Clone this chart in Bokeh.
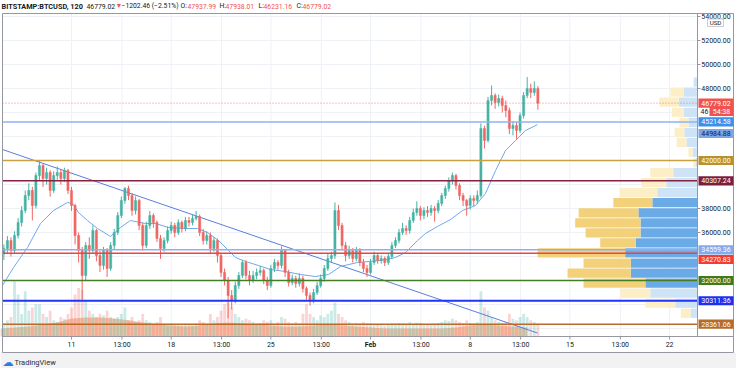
from bokeh.plotting import figure
from bokeh.models import Range1d
from bokeh.core.properties import value
from bokeh.embed import file_html
from bokeh.resources import INLINE

# ---------------- data (BITSTAMP:BTCUSD) ----------------
first_open = 34200
closes = [34670, 35330, 34500, 35750, 36830, 37830, 39080, 39500, 38250, 40750,
          41580, 40500, 41000, 39500, 40750, 41000, 40500, 41170, 39500, 38250,
          35750, 34500, 32420, 34920, 34500, 36170, 34080, 33250, 34500, 33000,
          34920, 36000, 37420, 38670, 39670, 39080, 37830, 38670, 36580, 34920,
          36580, 37420, 36830, 35500, 34670, 35330, 36170, 36580, 36000, 36830,
          36330, 37000, 36830, 37170, 37330, 36000, 35330, 35750, 34670, 35330,
          34080, 32670, 32000, 30750, 30330, 31580, 32420, 33500, 32420, 32000,
          32420, 32670, 32830, 32000, 31580, 33000, 33500, 33250, 34500, 32670,
          31830, 32170, 31750, 32170, 31330, 30750, 30330, 31000, 31580, 32170,
          33000, 33830, 34080, 37830, 36580, 34920, 34080, 34500, 33830, 34500,
          33500, 33000, 32670, 33500, 34080, 33670, 33830, 33500, 34000, 34920,
          35330, 36000, 36330, 36170, 37000, 37670, 38000, 37420, 37830, 37670,
          38000, 37830, 38420, 39080, 39670, 40330, 40750, 39920, 39080, 38670,
          38250, 38830, 38670, 39080, 44670, 43670, 47000, 47420, 46830, 47170,
          46580, 46170, 44670, 44920, 44500, 45750, 47420, 48000, 47670, 48000,
          46779.02]
highs = [35000, 35700, 35600, 36100, 37200, 38200, 39500, 40100, 39800, 41000,
         41950, 41700, 41400, 41200, 41100, 41500, 41300, 41400, 41300, 39800,
         38400, 36000, 34800, 35200, 35600, 36600, 36300, 34500, 34800, 34700,
         35200, 36300, 37700, 39000, 39800, 39900, 39300, 39000, 38800, 36800,
         36900, 37800, 37600, 37000, 35800, 35600, 36500, 36900, 36800, 37100,
         37000, 37300, 37300, 37500, 37800, 37500, 36300, 36100, 36000, 35600,
         35500, 34300, 33000, 32300, 31200, 31900, 32700, 33700, 33700, 32800,
         32800, 33000, 33200, 33000, 32300, 33300, 33800, 33700, 34850, 34600,
         32900, 32500, 32400, 32600, 32400, 31500, 31000, 31300, 31900, 32500,
         33300, 34200, 34400, 38500, 38300, 36800, 35200, 34900, 34700, 34800,
         34700, 33800, 33300, 33800, 34400, 34300, 34100, 34000, 34300, 35200,
         35600, 36300, 36800, 36600, 37300, 38000, 38600, 38200, 38100, 38200,
         38300, 38200, 38700, 39300, 39900, 40600, 41000, 40900, 40100, 39300,
         38800, 39100, 39100, 39500, 45100, 44900, 47300, 48250, 47600, 47500,
         47400, 47000, 46400, 45300, 45200, 46000, 47700, 48950, 48400, 48600,
         48200]
lows = [33700, 34300, 34000, 34200, 35500, 36500, 37600, 38700, 37000, 38000,
        40300, 39800, 40000, 39000, 39300, 40400, 40000, 40200, 39200, 37800,
        35000, 33500, 30400, 32000, 33800, 34200, 33600, 32700, 32900, 32300,
        32800, 34600, 35800, 37200, 38400, 38700, 37400, 37500, 36200, 34500,
        34700, 36300, 36400, 35200, 33800, 34400, 35100, 35900, 35600, 35800,
        36000, 36100, 36500, 36600, 37000, 35700, 35000, 35000, 34300, 34400,
        33500, 32300, 31600, 28850, 29600, 30100, 31300, 32200, 32100, 31600,
        31800, 32100, 32400, 31700, 31200, 31400, 32700, 32900, 33000, 32300,
        31500, 31600, 31400, 31500, 31000, 30400, 29900, 30100, 30800, 31400,
        31900, 32800, 33500, 33800, 36200, 34500, 33600, 33800, 33500, 33600,
        33200, 32700, 32300, 32500, 33300, 33400, 33400, 33200, 33300, 33800,
        34700, 35100, 35800, 35800, 35900, 36800, 37400, 37000, 37100, 37300,
        37400, 36900, 37600, 38200, 38800, 39400, 40000, 39600, 38700, 38200,
        37400, 37900, 38200, 38400, 38900, 43000, 43500, 46600, 46300, 46500,
        46000, 45600, 44200, 44100, 43800, 44300, 45500, 47200, 47200, 47400,
        46231.16]
volumes = [400, 500, 600, 1700, 1300, 700, 1400, 800, 900, 1000,
           1000, 700, 600, 800, 500, 450, 600, 550, 700, 900,
           1300, 1500, 1450, 1100, 800, 700, 600, 700, 650, 800,
           600, 550, 600, 700, 900, 500, 600, 450, 500, 700,
           500, 450, 400, 450, 600, 400, 350, 400, 380, 350,
           350, 400, 380, 350, 400, 500, 450, 400, 700, 500,
           600, 800, 1000, 1050, 900, 700, 600, 500, 550, 500,
           450, 400, 420, 500, 450, 500, 400, 450, 600, 550,
           450, 400, 450, 400, 700, 1000, 700, 600, 500, 650,
           600, 700, 800, 1050, 700, 600, 500, 450, 400, 420,
           400, 450, 420, 400, 350, 380, 350, 330, 350, 400,
           380, 420, 400, 380, 450, 400, 430, 420, 380, 350,
           360, 380, 420, 450, 500, 480, 550, 500, 450, 420,
           500, 420, 400, 450, 1400, 900, 800, 600, 500, 450,
           420, 450, 700, 550, 500, 600, 700, 600, 500, 450,
           400]
vol_ma_days = list(range(6, 44))
vol_ma = [250, 280, 310, 370, 430, 560, 590, 590, 560, 500,
          430, 370, 340, 310, 340, 400, 430, 400, 370, 340,
          310, 310, 340, 370, 340, 310, 280, 250, 250, 250,
          250, 250, 280, 340, 370, 340, 310, 280]
ma_days = [6.15, 6.93, 7.91, 8.82, 9.74, 10.72, 11.07, 11.49, 12.12, 12.83,
           13.74, 14.44, 15.14, 16.20, 16.90, 17.81, 19.01, 19.85, 20.55, 21.32,
           22.03, 22.52, 23.22, 24.13, 24.97, 26.03, 27.08, 28.13, 29.05, 29.89,
           31.08, 32.70, 33.75, 34.46, 35.30, 35.86, 36.70, 37.62, 38.46, 39.37,
           40.07, 40.78, 41.48, 42.18, 42.88, 43.72]
ma_vals = [31583, 33083, 34750, 36750, 37833, 38500, 38417, 37667, 37000, 36333,
           35667, 36417, 37000, 36750, 36750, 36417, 36333, 36333, 36000, 35333,
           34500, 33917, 33583, 33250, 32917, 32750, 32500, 32333, 32500, 33167,
           33500, 33667, 33917, 34333, 35333, 35917, 36500, 37083, 37833, 38250,
           39250, 41167, 42833, 43667, 44500, 44984.88]
trend_days = [6.15, 43.72]
trend_prices = [42917, 27625]
levels = [45214.58, 42000.00, 40307.24, 34559.36, 34270.83, 32000.00, 30311.36, 28361.06]
last_price = 46779.02
ma_last = 44984.88
countdown = "54:38"
vp_low, vp_high = 28850, 48950
vp_up = [10, 32, 68, 75, 96, 96, 104, 89, 82, 82, 85, 65, 58, 45, 35, 3, 7, 16, 19, 13, 20, 27, 20, 5]
vp_down = [14, 43, 43, 89, 91, 68, 126, 51, 79, 94, 86, 56, 54, 36, 33, 3, 6, 14, 14, 13, 17, 28, 19, 1]
date_ticks = [11, 14.54, 18, 21.54, 25, 28.54, 32, 35.54, 39, 42.54, 46, 49.54, 53]
date_labels = ["11", "13:00", "18", "13:00", "25", "13:00", "Feb", "13:00", "8", "13:00", "15", "13:00", "22"]
price_ticks = [36000, 38000, 48000, 50000, 52000, 54000]
grid_prices = list(range(28000, 56000, 2000))

# ---------------- canvas geometry (pixel -> data helpers) ----------------
W, H = 736, 368
FONT = "Roboto"
L, R, T, B = 2, 697, 13, 336      # chart pane
RA = 733                          # right edge of price scale
FB = 352                          # bottom edge of widget


def dx(X):
    return 11 + (X - 71) / 14.24


def py(Y):
    return 48000 - (Y - 88) / 0.012


PPX = 1 / 0.012  # price units per pixel
p = figure(width=W, height=H, output_backend="svg", toolbar_location=None,
           x_range=Range1d(dx(0), dx(W)), y_range=Range1d(py(H), py(0)),
           x_axis_location=None, y_axis_location=None,
           min_border=0, min_border_left=0, min_border_right=0, min_border_top=0, min_border_bottom=0)
VPX = 1000 / (R - L)
VOLPX = 10000 / (B - T)
p.extra_y_ranges = {"vol": Range1d(-(H - B) * VOLPX, 10000 + T * VOLPX)}
p.extra_x_ranges = {"vp": Range1d(1000 + L * VPX, -(W - R) * VPX)}
p.background_fill_color = "white"
p.border_fill_color = "white"
p.outline_line_color = None
p.grid.visible = False

# footer band
p.quad(left=dx(0), right=dx(W), bottom=py(H), top=py(FB), fill_color="#f2f2f3", line_alpha=0)

# grid
gp = [g for g in grid_prices if py(B) < g < py(T)]
p.segment(x0=[dx(L)] * len(gp), y0=gp, x1=[dx(R)] * len(gp), y1=gp, line_color="#eef1f6", line_width=1)
p.segment(x0=date_ticks, y0=[py(T)] * len(date_ticks), x1=date_ticks, y1=[py(B)] * len(date_ticks),
          line_color="#eef1f6", line_width=1)

# volume
days = [6.25 + 0.25 * i for i in range(len(closes))]
opens = [first_open] + closes[:-1]
up = [c >= o for o, c in zip(opens, closes)]
UPC, DNC = "#45b2a4", "#ef6763"
cols = [UPC if u else DNC for u in up]
p.varea(x=vol_ma_days, y1=0, y2=vol_ma, y_range_name="vol", fill_color="#f4b48c", fill_alpha=0.75)
p.vbar(x=days, width=0.2, bottom=0, top=volumes, y_range_name="vol",
       fill_color=cols, fill_alpha=0.28, line_alpha=0)

# trend line and moving average
p.line(trend_days, trend_prices, line_color="#5a7ee0", line_width=1)
p.line(ma_days, ma_vals, line_color="#6ea8f0", line_width=1)

# candles
p.segment(x0=days, y0=lows, x1=days, y1=highs, line_color=cols, line_width=1)
p.vbar(x=days, width=0.15, top=[max(o, c) for o, c in zip(opens, closes)],
       bottom=[min(o, c) for o, c in zip(opens, closes)], fill_color=cols, line_color=cols, line_width=0.5)

# volume profile
n = len(vp_up)
row = (vp_high - vp_low) / n
centers = [vp_low + row * (k + 0.5) for k in range(n)]
VA = range(3, 12)
blue = ["#6aaae6" if k in VA else "#cfe3f7" for k in range(n)]
yell = ["#f3d17a" if k in VA else "#fcefc8" for k in range(n)]
p.hbar(y=centers, left=0, right=vp_up, height=row * 0.92, x_range_name="vp",
       fill_color=blue, line_alpha=0)
p.hbar(y=centers, left=vp_up, right=[u + d for u, d in zip(vp_up, vp_down)], height=row * 0.92,
       x_range_name="vp", fill_color=yell, line_alpha=0)

# level lines (drawn over the profile)
lvl_line = ["#8fb3f3", "#c9a240", "#86213f", "#8eb0f0", "#f0433a", "#447d22", "#2234f5", "#b86a2a"]
lvl_bg = ["#3d8fea", "#b8922f", "#7a1f3c", "#86a9ea", "#f23d35", "#3f7a1f", "#1d2ff0", "#b56b2e"]
lvl_w = [1.5, 1.5, 1.5, 1.5, 1.5, 1.5, 2, 1.5]
p.segment(x0=[dx(L)] * len(levels), y0=levels, x1=[dx(R)] * len(levels), y1=levels,
          line_color=lvl_line, line_width=lvl_w)
p.segment(x0=[dx(L)], y0=[last_price], x1=[dx(R)], y1=[last_price], line_color="#ef5350",
          line_dash="1 2", line_width=1, line_alpha=0.7)

# frame lines
BORDER = "#9598a1"
p.segment(x0=[dx(L), dx(L), dx(RA), dx(L), dx(R), dx(L)],
          y0=[py(T), py(T), py(T), py(FB), py(T), py(B)],
          x1=[dx(RA), dx(L), dx(RA), dx(RA), dx(R), dx(RA)],
          y1=[py(T), py(FB), py(FB), py(FB), py(B), py(B)],
          line_color=BORDER, line_width=1)

FS = value("7px")
# price scale ticks and labels
tk = [t for t in price_ticks]
p.segment(x0=[dx(R)] * len(tk), y0=tk, x1=[dx(R + 3)] * len(tk), y1=tk, line_color=BORDER)
p.text(x=[dx(715.5)] * len(tk), y=tk, text=[f"{t:.2f}" for t in tk], text_font=value(FONT),
       text_font_size=FS, text_color="#131722", text_align="center", text_baseline="middle")

# date scale ticks and labels
p.segment(x0=date_ticks, y0=[py(B)] * len(date_ticks), x1=date_ticks, y1=[py(B + 3)] * len(date_ticks),
          line_color=BORDER)
p.text(x=date_ticks, y=[py(344)] * len(date_ticks), text=date_labels, text_font=value(FONT),
       text_font_size=FS, text_color="#131722", text_align="center", text_baseline="middle",
       text_font_style=["bold" if s == "Feb" else "normal" for s in date_labels])

# price tags on the scale
tag_y = list(levels)
tag_y[levels.index(34270.83)] = py(259)
tag_y += [py(133), last_price]
tag_txt = [f"{v:.2f}" for v in levels] + [f"{ma_last:.2f}", f"{last_price:.2f}"]
tag_bg = lvl_bg + ["#7ea5e6", "#ef5350"]
tag_fg = ["white"] * len(levels) + ["#0f1c3f", "white"]
HALF = 4.6 * PPX
p.quad(left=[dx(R + 1)] * len(tag_y), right=[dx(RA)] * len(tag_y),
       bottom=[y - HALF for y in tag_y], top=[y + HALF for y in tag_y], fill_color=tag_bg, line_alpha=0)
p.text(x=[dx(715.5)] * len(tag_y), y=tag_y, text=tag_txt, text_font=value(FONT),
       text_font_size=FS, text_color=tag_fg, text_align="center", text_baseline="middle")
# countdown box over a hidden tag
p.text(x=[dx(700)], y=[py(111)], text=["46"], text_font=value(FONT), text_font_size=FS,
       text_color="#131722", text_baseline="middle")
p.quad(left=[dx(709)], right=[dx(RA)], bottom=[py(111) - HALF], top=[py(111) + HALF],
       fill_color="#ef5350", line_alpha=0)
p.text(x=[dx(721)], y=[py(111)], text=[countdown], text_font=value(FONT), text_font_size=FS,
       text_color="white", text_align="center", text_baseline="middle")
# currency badge
p.quad(left=[dx(707)], right=[dx(723)], bottom=[py(26)], top=[py(18.5)], fill_color="white",
       line_color="#c9ccd3", line_width=1)
p.text(x=[dx(715)], y=[py(22.2)], text=["USD"], text_font=value(FONT), text_font_size=value("6.2px"),
       text_color="#131722", text_align="center", text_baseline="middle")

# header legend
hdr_x = [1, 86, 115, 121, 180, 187, 219, 225, 258, 263, 296, 302]
hdr_t = ["BITSTAMP:BTCUSD, 120", "46779.02", "\u25bc", "\u22121202.46 (\u22122.51%)",
         "O:", "47937.99", "H:", "47938.01", "L:", "46231.16", "C:", "46779.02"]
hdr_c = ["#131722", "#131722", "#ef5350", "#131722", "#131722", "#ef5350",
         "#131722", "#ef5350", "#131722", "#ef5350", "#131722", "#ef5350"]
hdr_s = ["bold"] + ["normal"] * 11
hdr_f = ["7.3px"] + ["6.8px"] * 11
p.text(x=[dx(v) for v in hdr_x], y=[py(5.8)] * len(hdr_x), text=hdr_t, text_font=value(FONT),
       text_font_size=hdr_f, text_color=hdr_c, text_font_style=hdr_s, text_baseline="middle")

# footer branding
p.text(x=[dx(2)], y=[py(361.5)], text=["\u2601"], text_font=value("DejaVu Sans"),
       text_font_size=value("11px"), text_color="#2a7fde", text_baseline="middle")
p.text(x=[dx(14)], y=[py(362)], text=["TradingView"], text_font=value(FONT),
       text_font_size=value("7.5px"), text_color="#2a2e39", text_baseline="middle")

open("out.html", "w").write(file_html(p, INLINE))
